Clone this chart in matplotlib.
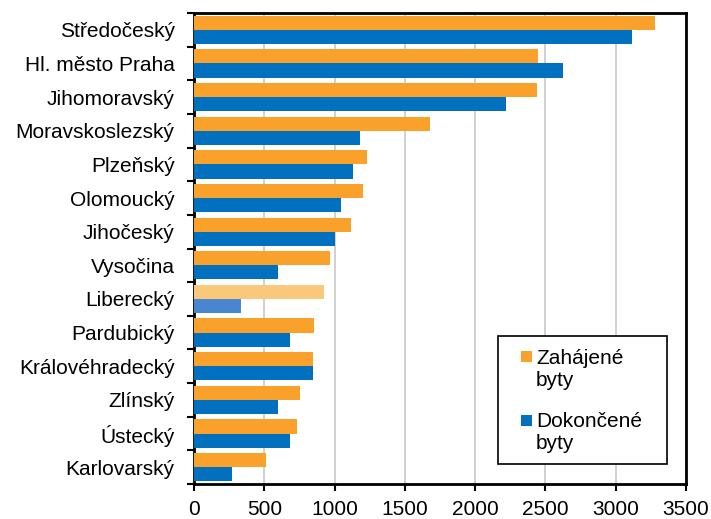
import numpy as np
import matplotlib.pyplot as plt
from matplotlib.patches import Rectangle

plt.rcParams['font.family'] = ['Liberation Sans', 'DejaVu Sans']

# data
regions = ['Středočeský', 'Hl. město Praha', 'Jihomoravský', 'Moravskoslezský',
           'Plzeňský', 'Olomoucký', 'Jihočeský', 'Vysočina', 'Liberecký',
           'Pardubický', 'Královéhradecký', 'Zlínský', 'Ústecký', 'Karlovarský']
started = [3280, 2450, 2440, 1680, 1230, 1205, 1120, 970, 925, 855, 845, 755, 730, 510]
completed = [3115, 2625, 2220, 1180, 1130, 1045, 1000, 597, 336, 682, 850, 600, 682, 270]
series_names = ['Zahájené byty', 'Dokončené byty']

orange = '#F9A12A'
blue = '#0070BF'
highlight = 'Liberecký'

W, H = 711, 519
fig = plt.figure(figsize=(W / 100, H / 100), dpi=100)
ax = fig.add_axes([194 / W, 35 / H, 492 / W, 471 / H])

y = np.arange(len(regions))
h = 0.42
c_or = [('#F9C87A' if r == highlight else orange) for r in regions]
c_bl = [('#4A86D0' if r == highlight else blue) for r in regions]
ax.barh(y - h / 2, started, height=h, color=c_or, zorder=3)
ax.barh(y + h / 2, completed, height=h, color=c_bl, zorder=3)

ax.set_xlim(0, 3500)
ax.set_ylim(len(regions) - 0.5, -0.5)
ax.set_xticks(range(0, 3501, 500))
ax.grid(axis='x', color='#C8C8C8', linewidth=1.2, zorder=0)

ax.set_yticks(y)
ax.set_yticklabels(regions)
ax.set_yticks(np.arange(-0.5, len(regions)), minor=True)
ax.tick_params(axis='y', which='major', length=0, pad=14, labelsize=15)
ax.tick_params(axis='y', which='minor', length=5, width=1.5, direction='out')
ax.tick_params(axis='x', length=5, width=1.5, labelsize=15, pad=6.5)

for s in ax.spines.values():
    s.set_linewidth(2)
    s.set_color('black')


# legend drawn by hand (Excel style: wrapped labels, marker on first line)
def px(x, yy):
    return x / W, 1 - yy / H


fx, fy = px(498, 464)
fig.add_artist(Rectangle((fx, fy), 169 / W, 128 / H, transform=fig.transFigure,
                         facecolor='white', edgecolor='black', linewidth=1.2, zorder=5))
for i, (name, col) in enumerate(zip(series_names, [orange, blue])):
    base = 363.5 + i * 63.5
    sx, sy = px(521, base - 1.5)
    fig.add_artist(Rectangle((sx, sy), 11 / W, 11 / H, transform=fig.transFigure,
                             facecolor=col, edgecolor='none', zorder=6))
    for j, line in enumerate(name.split(' ')):
        tx, ty = px(536, base + j * 22)
        fig.text(tx, ty, line, fontsize=15, va='baseline', ha='left', zorder=6)

fig.savefig('out.png', dpi=100)
